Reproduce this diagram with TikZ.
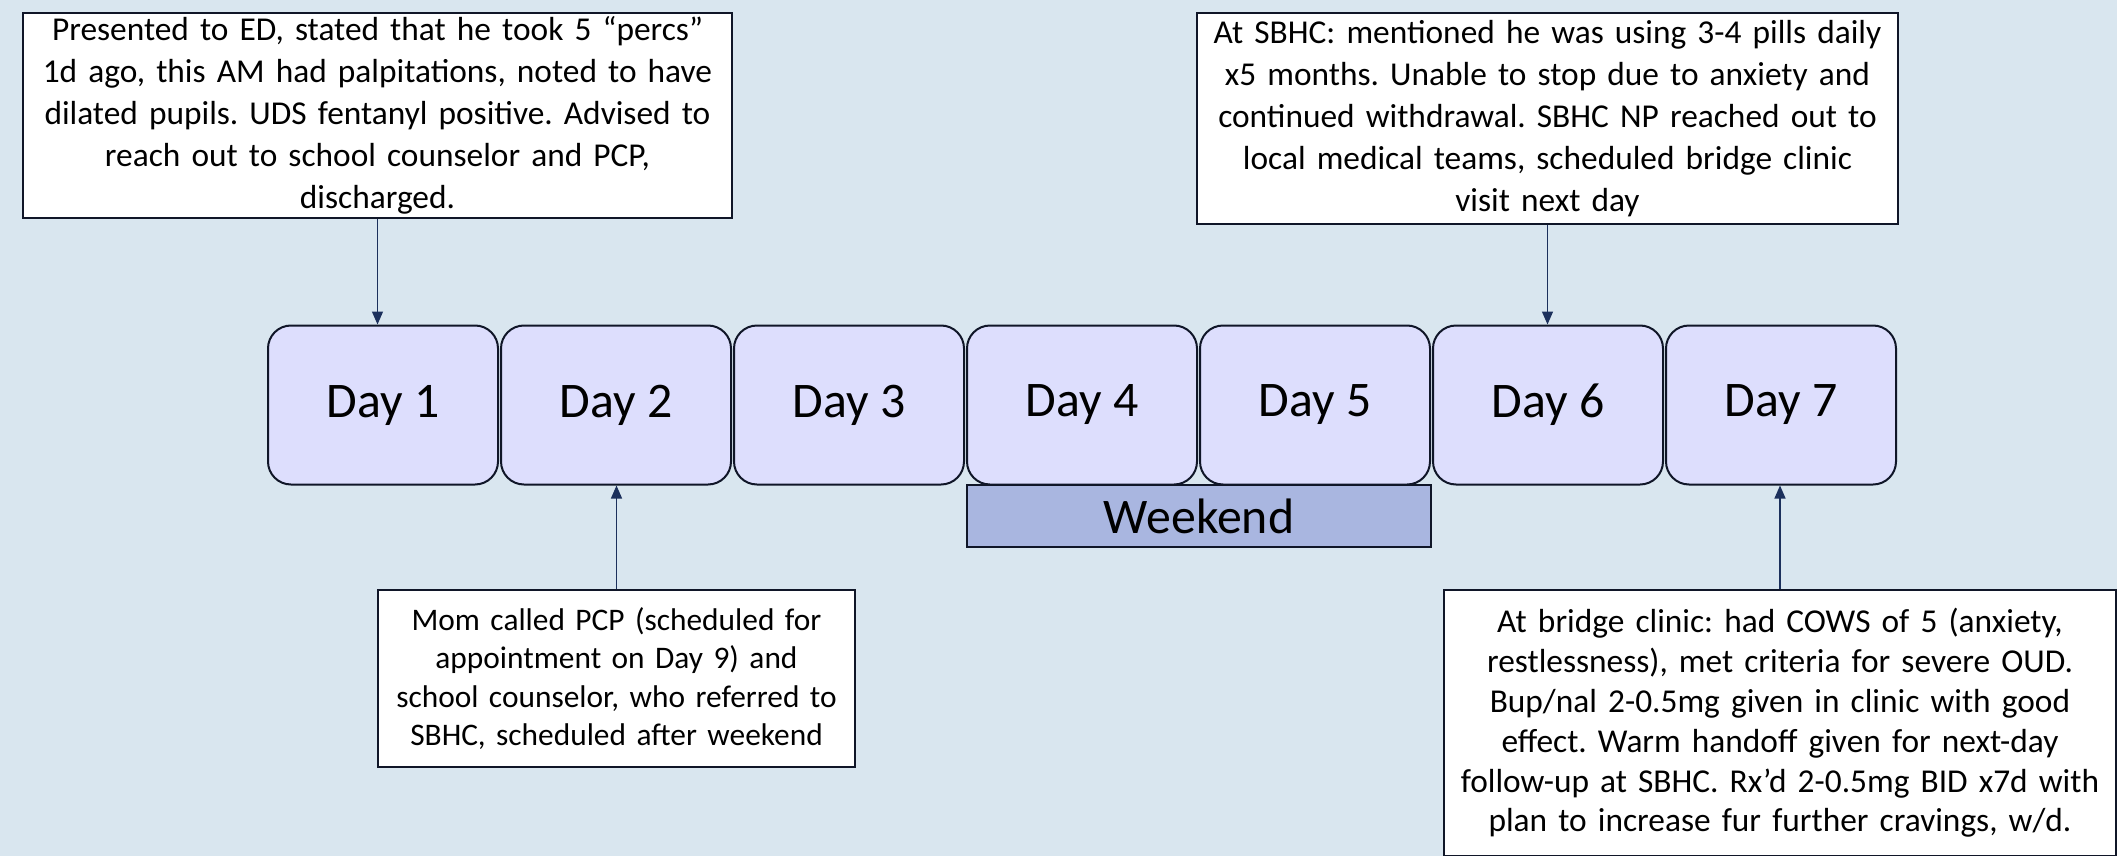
\documentclass[tikz,border=0pt]{standalone}
\usepackage{fontspec}
\setmainfont{Carlito}
\usetikzlibrary{arrows.meta}
\definecolor{backdrop}{RGB}{217,230,239}
\definecolor{dayfill}{RGB}{221,222,253}
\definecolor{weekendfill}{RGB}{169,182,224}
\definecolor{pointer}{RGB}{28,48,92}
\definecolor{edge}{RGB}{16,22,40}
\newcommand{\notesize}[2]{\fontsize{#1}{#2}\selectfont\frenchspacing}
\newcommand{\drawpointer}{\draw[pointer, line width=1.3bp, -{Triangle[length=13bp,width=11bp]}]}
\tikzset{
  daybox/.style={draw=edge, line width=2bp, fill=dayfill, rounded corners=23bp,
    minimum width=230bp, minimum height=159bp, inner sep=0pt, font=\notesize{50}{60}},
  weekendbox/.style={draw=edge, line width=2bp, fill=weekendfill,
    minimum width=464bp, minimum height=62bp, inner sep=0pt, font=\notesize{50}{60}},
  notebox/.style={draw=edge, line width=2bp, fill=white, align=center, inner sep=0pt}
}
\begin{document}
\begin{tikzpicture}[x=1bp, y=-1bp]
\fill[backdrop] (0,0) rectangle (2117,856);
\useasboundingbox (0,0) rectangle (2117,856);
\foreach \d in {1,...,7}{
  \node[daybox] (day\d) at ({383+233*(\d-1)},405) {Day \d};
}
\node[weekendbox] (weekend) at (1199,516) {Weekend};
\node[notebox, text width=709bp, minimum height=205bp, font=\notesize{33.5}{42}] (ed) at (377.5,115.5)
  {Presented to ED, stated that he took 5 “percs”\\1d ago, this AM had palpitations, noted to have\\dilated pupils. UDS fentanyl positive. Advised to\\reach out to school counselor and PCP,\\discharged.};
\node[notebox, text width=701bp, minimum height=211bp, font=\notesize{33.5}{42}] (sbhc) at (1547.5,118.5)
  {At SBHC: mentioned he was using 3-4 pills daily\\x5 months. Unable to stop due to anxiety and\\continued withdrawal. SBHC NP reached out to\\local medical teams, scheduled bridge clinic\\visit next day};
\node[notebox, text width=477bp, minimum height=177bp, font=\notesize{31.5}{38.5}] (pcp) at (616.5,678.5)
  {Mom called PCP (scheduled for\\appointment on Day 9) and\\school counselor, who referred to\\SBHC, scheduled after weekend};
\node[notebox, text width=672bp, minimum height=266bp, font=\notesize{33.5}{40}, anchor=north] (bridge) at (1780,589)
  {At bridge clinic: had COWS of 5 (anxiety,\\restlessness), met criteria for severe OUD.\\Bup/nal 2-0.5mg given in clinic with good\\effect. Warm handoff given for next-day\\follow-up at SBHC. Rx’d 2-0.5mg BID x7d with\\plan to increase fur further cravings, w/d.};
\drawpointer (ed.south) -- (ed.south |- day1.north);
\drawpointer (sbhc.south) -- (sbhc.south |- day6.north);
\drawpointer (pcp.north) -- (pcp.north |- day2.south);
\drawpointer (bridge.north) -- (bridge.north |- day7.south);
\end{tikzpicture}
\end{document}
